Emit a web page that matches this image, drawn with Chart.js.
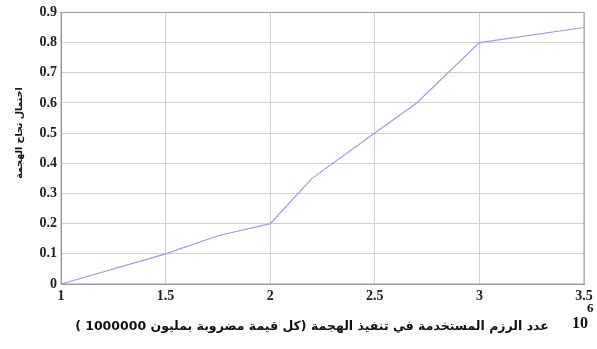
<!DOCTYPE html>
<html>
<head>
<meta charset="utf-8">
<script src="https://cdn.jsdelivr.net/npm/chart.js@4/dist/chart.umd.min.js"></script>
<style>
  html, body { margin: 0; padding: 0; background: #fff; }
  #wrap { width: 597px; height: 349px; position: relative; }
</style>
</head>
<body>
<div id="wrap"><canvas id="c" width="597" height="349"></canvas></div>
<script>
// Packets used (in millions) and attack success probability
const packetsMillions = [1, 1.5, 1.75, 2, 2.2, 2.5, 2.7, 3, 3.5];
const successProb     = [0, 0.1, 0.16, 0.2, 0.35, 0.5, 0.6, 0.8, 0.85];

const xTicks = [1, 1.5, 2, 2.5, 3, 3.5];
const yTicks = [0, 0.1, 0.2, 0.3, 0.4, 0.5, 0.6, 0.7, 0.8, 0.9];

const xTitle = 'عدد الرزم المستخدمة في تنفيذ الهجمة (كل قيمة مضروبة بمليون 1000000 )';
const yTitle = 'احتمال نجاح الهجمة';
const xExponentBase = '10';
const xExponent = '6';

const tickFont = { family: 'Liberation Serif', size: 14, weight: 'bold' };

// Axis titles and the ×10^6 marker
const titlesPlugin = {
  id: 'titles',
  afterDraw(chart) {
    const ctx = chart.ctx;
    const area = chart.chartArea;
    ctx.save();
    ctx.fillStyle = '#111';
    ctx.textBaseline = 'middle';

    ctx.font = 'bold 12.5px "DejaVu Sans"';
    ctx.textAlign = 'center';
    ctx.fillText(xTitle, 312, area.bottom + 43);

    ctx.save();
    ctx.translate(20, 133);
    ctx.rotate(-Math.PI / 2);
    ctx.font = 'bold 9.5px "DejaVu Sans"';
    ctx.fillText(yTitle, 0, 0);
    ctx.restore();

    ctx.font = 'bold 16px "Liberation Serif"';
    ctx.textAlign = 'left';
    ctx.fillText(xExponentBase, 572, area.bottom + 40);
    ctx.font = 'bold 13px "Liberation Serif"';
    ctx.fillText(xExponent, 587, area.bottom + 25);
    ctx.restore();
  }
};

new Chart(document.getElementById('c'), {
  type: 'scatter',
  data: {
    datasets: [{
      data: packetsMillions.map((x, i) => ({ x, y: successProb[i] })),
      showLine: true,
      borderColor: '#9c9cf0',
      borderWidth: 1.2,
      pointRadius: 0,
      tension: 0
    }]
  },
  options: {
    responsive: false,
    animation: false,
    layout: { padding: { top: 8, right: 13, left: 0, bottom: 0 } },
    plugins: { legend: { display: false }, tooltip: { enabled: false } },
    scales: {
      x: {
        type: 'linear',
        min: 1, max: 3.5,
        afterFit(s) { s.height = 65; },
        afterBuildTicks(s) { s.ticks = xTicks.map(v => ({ value: v })); },
        grid: { color: '#d0d0d0', lineWidth: 1, drawTicks: false },
        border: { color: '#9a9a9a', width: 1 },
        ticks: {
          font: tickFont, color: '#222', padding: 4, maxRotation: 0,
          callback: v => String(v)
        }
      },
      y: {
        min: 0, max: 0.9,
        afterFit(s) { s.width = 61; },
        afterBuildTicks(s) { s.ticks = yTicks.map(v => ({ value: v })); },
        grid: { color: '#d0d0d0', lineWidth: 1, drawTicks: false },
        border: { color: '#9a9a9a', width: 1 },
        ticks: {
          font: tickFont, color: '#222', padding: 4,
          callback: v => String(Math.round(v * 10) / 10)
        }
      }
    }
  },
  plugins: [titlesPlugin, {
    id: 'frame',
    afterDraw(chart) {
      const { ctx, chartArea: a } = chart;
      ctx.save();
      ctx.strokeStyle = '#9a9a9a';
      ctx.lineWidth = 1;
      ctx.strokeRect(a.left, a.top, a.right - a.left, a.bottom - a.top);
      ctx.restore();
    }
  }]
});
</script>
</body>
</html>
